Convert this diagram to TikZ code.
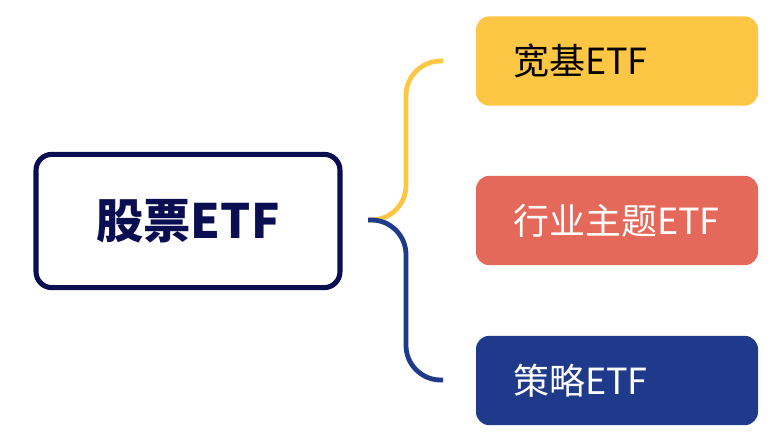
\documentclass[tikz,border=0pt]{standalone}
\usepackage{fontspec}
\newfontfamily\cjk{Noto Sans CJK SC}
\usetikzlibrary{positioning}
\definecolor{navy}{HTML}{0B0E50}
\definecolor{gold}{HTML}{FDC644}
\definecolor{coral}{HTML}{E5695A}
\definecolor{royal}{HTML}{1F3A8A}
\tikzset{
	rootbox/.style={draw=navy,line width=3.8pt,rounded corners=12pt,fill=white,
		minimum width=228pt,minimum height=100pt,inner sep=0pt,
		font=\cjk\bfseries\fontsize{35.5}{37}\selectfont,text=navy},
	leafbox/.style={rounded corners=10pt,minimum width=211.5pt,minimum height=67pt,
		inner xsep=27.75pt,inner ysep=0pt,text width=156pt,align=left,
		font=\cjk\fontsize{27}{29}\selectfont},
	branch/.style={line width=3.6pt,rounded corners=26pt}
}
\begin{document}
\begin{tikzpicture}[x=0.75pt,y=-0.75pt]
				\useasboundingbox (0,0) rectangle (776,442);
				% root node
				\node[rootbox] (root) at (188,221) {股票ETF};
				% three kinds of ETF on the right
				\foreach \n/\y/\col/\tcol/\txt in {kuanji/61/gold/black/宽基ETF,
					hangye/220.5/coral/white/行业主题ETF,
					celue/380.5/royal/white/策略ETF} {
					\node[leafbox,fill=\col,text=\tcol] (\n) at (617,\y) {\txt};
				}
				% brace from the fork to each box
				\coordinate (fork) at (368,220);
				\coordinate (topend) at (443,61);
				\coordinate (botend) at (443,380);
				\draw[branch,draw=gold] (fork) -- ++(38,0) |- (topend);
				\draw[branch,draw=royal] (fork) -- ++(38,0) |- (botend);
			\end{tikzpicture}
\end{document}
